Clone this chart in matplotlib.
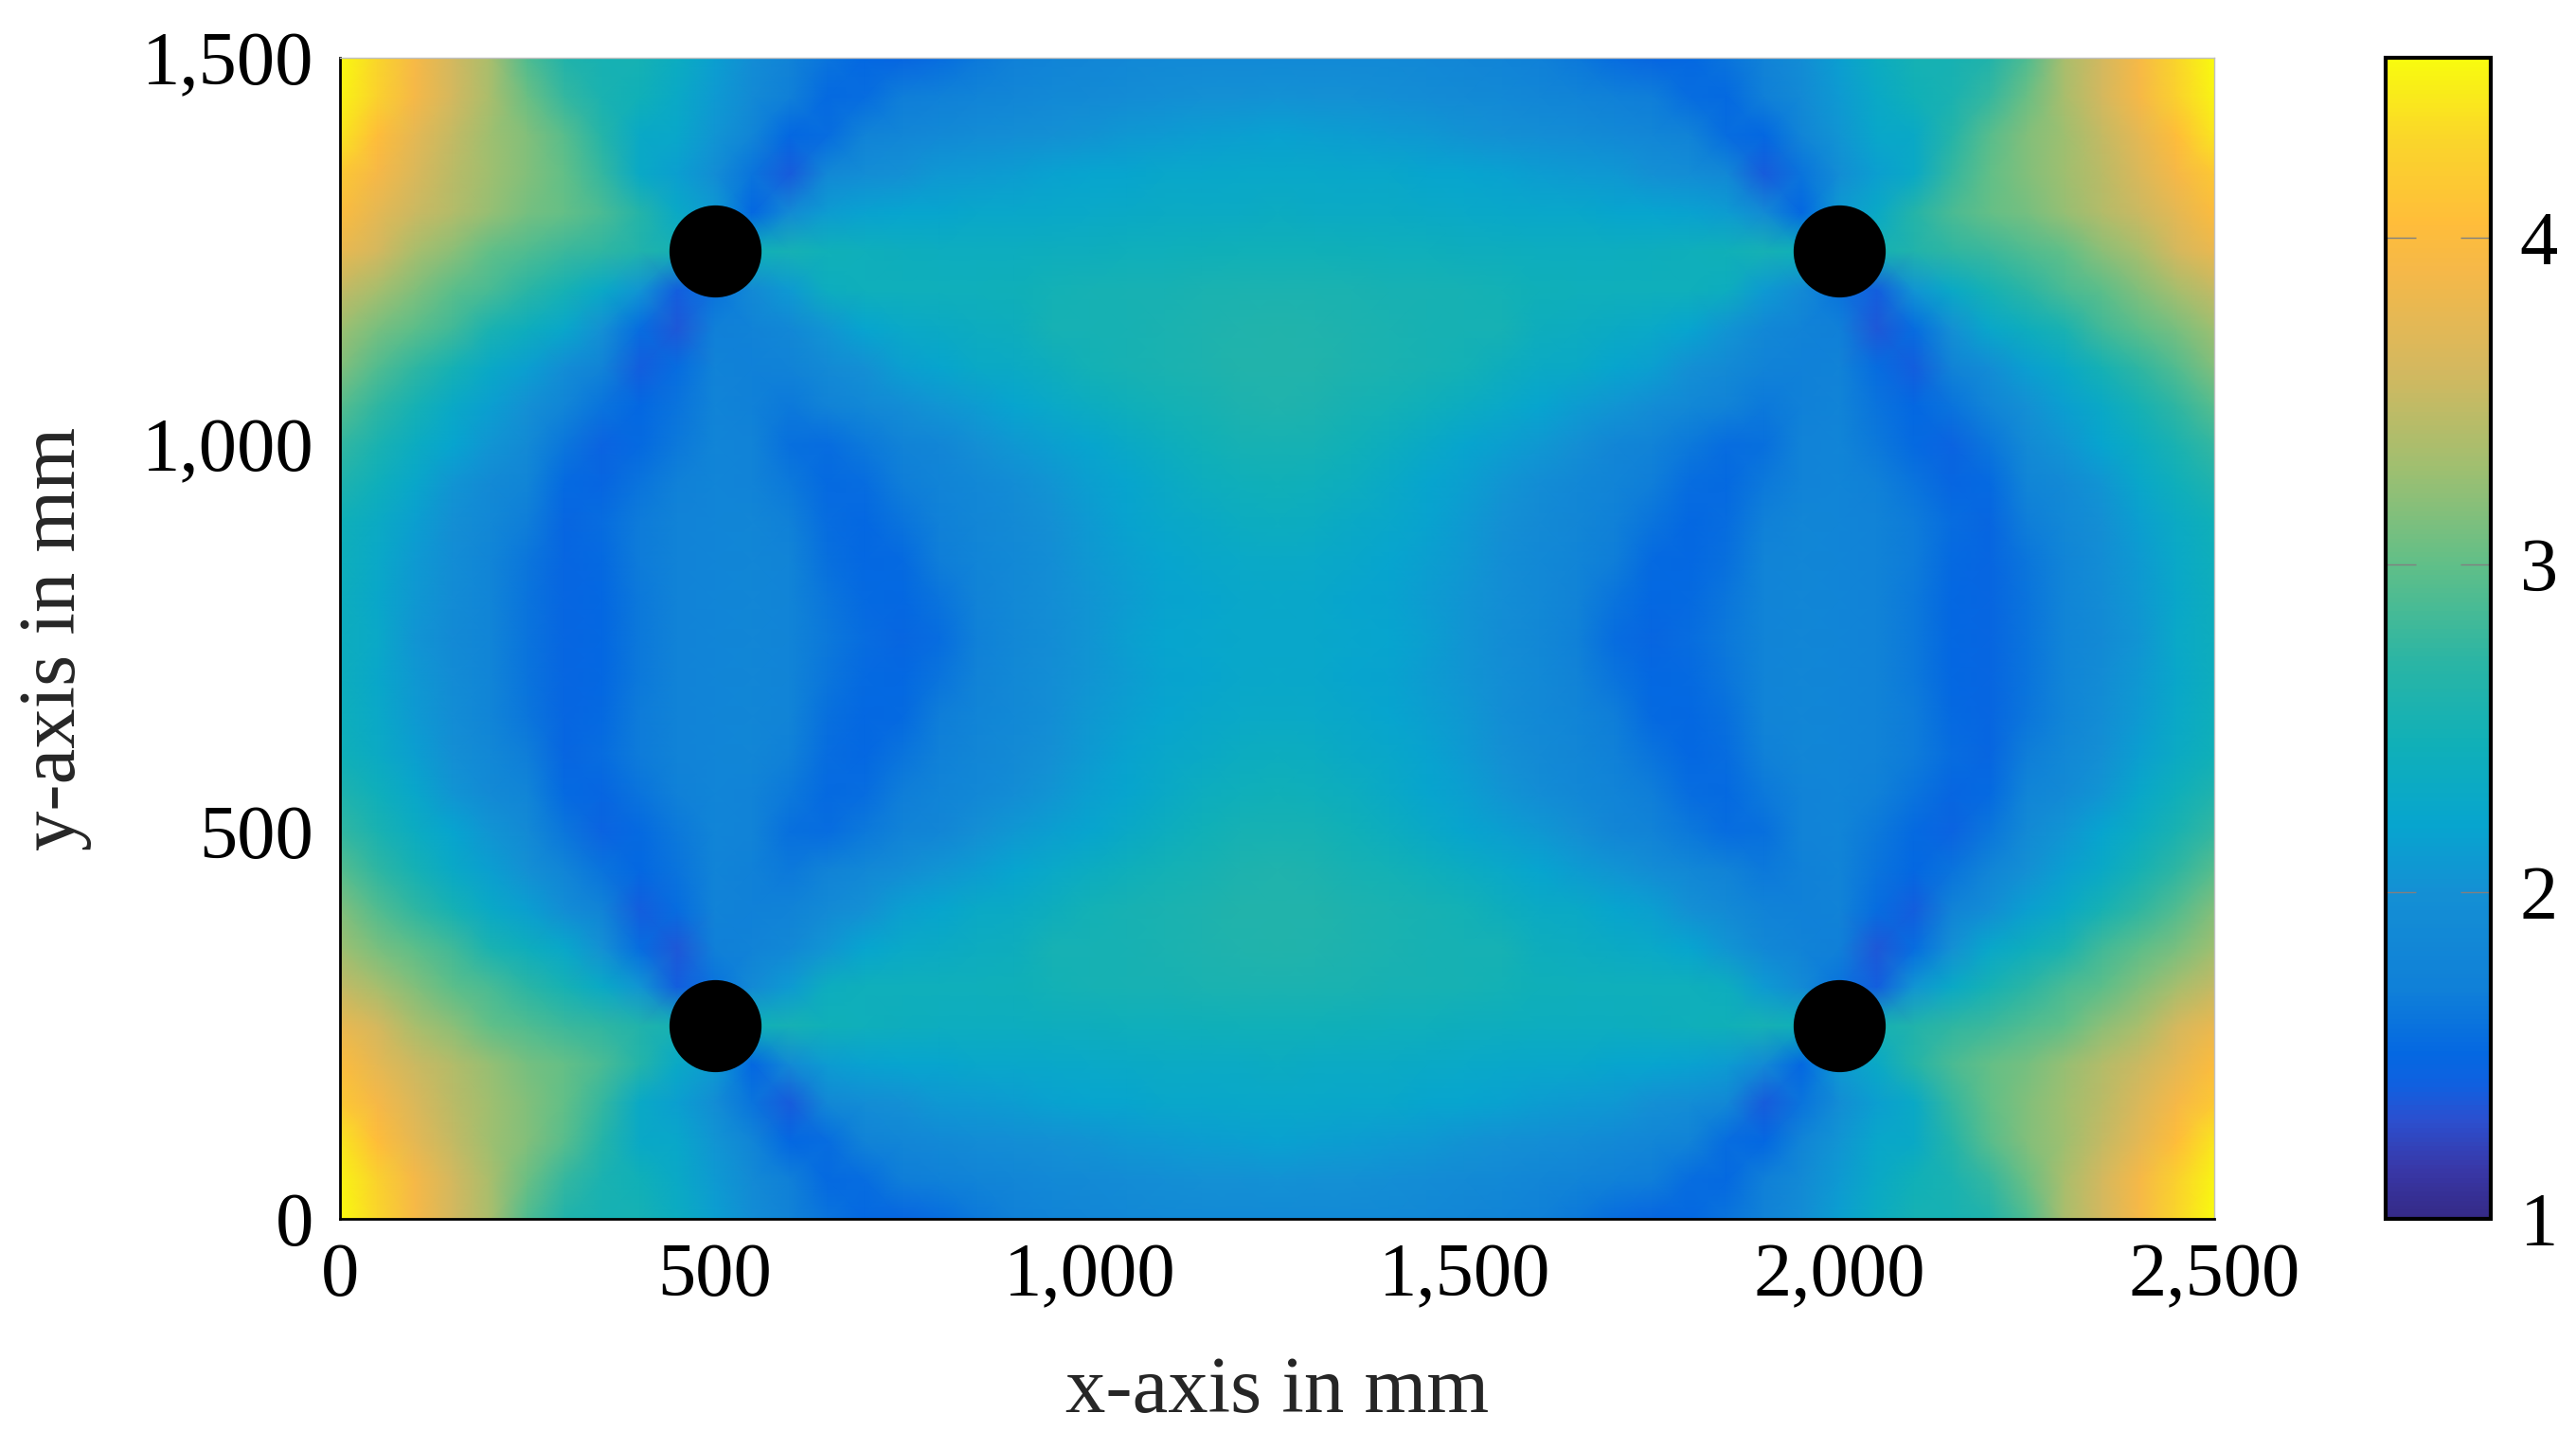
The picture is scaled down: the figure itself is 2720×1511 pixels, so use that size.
import numpy as np
import matplotlib
matplotlib.use("Agg")
import matplotlib.pyplot as plt
from matplotlib.colors import LinearSegmentedColormap, Normalize
from matplotlib.cm import ScalarMappable

x_quarter = list(range(0, 1300, 50))
y_quarter = list(range(1500, 700, -50))
z_1500 = [4.55, 4.3, 3.92, 3.6, 3.35, 2.9, 2.62, 2.52, 2.5, 2.35, 2.15, 1.95, 1.75, 1.6, 1.5, 1.48, 1.55, 1.65, 1.72, 1.78, 1.82, 1.85, 1.87, 1.88, 1.88, 1.88]
z_1450 = [4.5, 4.25, 3.9, 3.6, 3.35, 3.05, 2.75, 2.55, 2.45, 2.3, 2.1, 1.9, 1.7, 1.52, 1.55, 1.68, 1.72, 1.78, 1.83, 1.87, 1.9, 1.93, 1.97, 2.0, 2.0, 2.02]
z_1400 = [4.4, 4.05, 3.75, 3.5, 3.3, 3.15, 2.95, 2.65, 2.3, 2.25, 2.05, 1.8, 1.5, 1.55, 1.75, 1.82, 1.87, 1.92, 1.97, 2.0, 2.03, 2.07, 2.1, 2.13, 2.15, 2.17]
z_1350 = [4.15, 3.9, 3.65, 3.45, 3.3, 3.15, 3.0, 2.75, 2.3, 2.15, 1.95, 1.6, 1.38, 1.85, 1.95, 2.0, 2.07, 2.1, 2.13, 2.17, 2.2, 2.22, 2.25, 2.26, 2.27, 2.27]
z_1300 = [4.0, 3.75, 3.55, 3.4, 3.25, 3.1, 3.02, 2.88, 2.65, 2.3, 2.1, 1.5, 1.9, 2.12, 2.17, 2.2, 2.22, 2.25, 2.25, 2.27, 2.28, 2.3, 2.32, 2.33, 2.33, 2.35]
z_1250 = [3.8, 3.6, 3.35, 3.2, 3.0, 2.9, 2.8, 2.72, 2.62, 2.5, 2.4, 2.45, 2.5, 2.45, 2.42, 2.4, 2.38, 2.38, 2.38, 2.4, 2.4, 2.42, 2.42, 2.44, 2.45, 2.45]
z_1200 = [3.5, 3.33, 3.15, 2.97, 2.87, 2.7, 2.5, 2.3, 2.05, 1.4, 1.6, 1.9, 2.1, 2.38, 2.42, 2.42, 2.42, 2.42, 2.44, 2.48, 2.5, 2.52, 2.52, 2.54, 2.56, 2.56]
z_1150 = [3.3, 3.12, 2.97, 2.82, 2.55, 2.4, 2.25, 2.0, 1.55, 1.35, 1.7, 1.75, 1.85, 2.05, 2.2, 2.28, 2.33, 2.36, 2.4, 2.5, 2.5, 2.52, 2.55, 2.58, 2.6, 2.62]
z_1100 = [3.15, 2.92, 2.72, 2.5, 2.3, 2.15, 1.95, 1.75, 1.4, 1.55, 1.75, 1.72, 1.75, 1.9, 2.0, 2.15, 2.22, 2.3, 2.32, 2.4, 2.48, 2.52, 2.55, 2.58, 2.62, 2.62]
z_1050 = [2.95, 2.72, 2.5, 2.3, 2.15, 2.0, 1.8, 1.6, 1.5, 1.6, 1.78, 1.72, 1.65, 1.75, 1.85, 1.95, 2.05, 2.12, 2.2, 2.28, 2.35, 2.42, 2.48, 2.52, 2.58, 2.6]
z_1000 = [2.75, 2.55, 2.35, 2.2, 2.05, 1.9, 1.62, 1.45, 1.52, 1.65, 1.8, 1.75, 1.58, 1.55, 1.65, 1.75, 1.82, 1.98, 2.07, 2.15, 2.22, 2.3, 2.38, 2.45, 2.5, 2.52]
z_0950 = [2.6, 2.42, 2.25, 2.05, 1.9, 1.8, 1.52, 1.48, 1.6, 1.72, 1.8, 1.75, 1.65, 1.52, 1.55, 1.68, 1.78, 1.85, 1.95, 2.05, 2.15, 2.22, 2.3, 2.38, 2.42, 2.45]
z_0900 = [2.45, 2.32, 2.15, 1.98, 1.85, 1.68, 1.48, 1.55, 1.67, 1.76, 1.8, 1.82, 1.72, 1.55, 1.5, 1.6, 1.72, 1.82, 1.9, 2.0, 2.1, 2.18, 2.25, 2.3, 2.35, 2.38]
z_0850 = [2.42, 2.28, 2.1, 1.95, 1.8, 1.62, 1.48, 1.52, 1.67, 1.76, 1.8, 1.82, 1.78, 1.58, 1.5, 1.52, 1.68, 1.8, 1.88, 1.97, 2.08, 2.15, 2.2, 2.25, 2.28, 2.3]
z_0800 = [2.4, 2.25, 2.08, 1.93, 1.8, 1.6, 1.48, 1.5, 1.65, 1.75, 1.8, 1.82, 1.78, 1.62, 1.52, 1.5, 1.6, 1.75, 1.87, 1.97, 2.05, 2.12, 2.18, 2.22, 2.25, 2.27]
z_0750 = [2.4, 2.28, 2.05, 1.9, 1.8, 1.6, 1.48, 1.5, 1.65, 1.75, 1.8, 1.82, 1.78, 1.65, 1.55, 1.48, 1.55, 1.72, 1.85, 1.95, 2.05, 2.15, 2.2, 2.23, 2.25, 2.25]

hole_x = [500, 2000, 500, 2000]
hole_y = [1250, 1250, 250, 250]

x_ticks = [0, 500, 1000, 1500, 2000, 2500]
x_labels = ["0", "500", "1,000", "1,500", "2,000", "2,500"]
y_ticks = [0, 500, 1000, 1500]
y_labels = ["0", "500", "1,000", "1,500"]
bar_ticks = [1, 2, 3, 4]

# colour bar of the picture, value and colour
bar_values = [1.0, 1.15, 1.3, 1.4, 1.5, 1.7, 2.0, 2.2, 2.45, 2.7, 3.0, 3.3, 3.6, 3.9, 4.05, 4.3, 4.55]
bar_colors = ["#352a87", "#3838a8", "#2b50d0", "#1060e0", "#0468e2", "#1080d8", "#1490d4", "#07a5cf",
              "#10b0b8", "#2ab5a5", "#60bf88", "#a0bf70", "#d4b85f", "#f5b849", "#ffbd3a", "#fad52b", "#f9fb0e"]

plt.rcParams["font.family"] = ["Liberation Serif", "DejaVu Serif"]
W, H = 2720, 1511

vmin, vmax = bar_values[0], bar_values[-1]
nodes = [(v - vmin) / (vmax - vmin) for v in bar_values]
cmap = LinearSegmentedColormap.from_list("bar", list(zip(nodes, bar_colors)), N=256)
norm = Normalize(vmin, vmax)

quarter = np.array([z_0750, z_0800, z_0850, z_0900, z_0950, z_1000, z_1050, z_1100, z_1150,
                    z_1200, z_1250, z_1300, z_1350, z_1400, z_1450, z_1500])
y_up = np.array(y_quarter[::-1])
left = np.vstack([quarter[:0:-1], quarter])
full = np.hstack([left, left[:, -2::-1]])
x_full = np.concatenate([x_quarter, 2500 - np.array(x_quarter[-2::-1])])
y_full = np.concatenate([1500 - y_up[:0:-1], y_up])

fig = plt.figure(figsize=(W / 200, H / 200), dpi=200)
ax = fig.add_axes([359 / W, 1 - 1287 / H, (2338 - 359) / W, (1287 - 61) / H])
ax.pcolormesh(x_full, y_full, full, cmap=cmap, norm=norm, shading="gouraud")
ax.plot(hole_x, hole_y, "o", color="black", markersize=35, markeredgewidth=0)
ax.set_xlim(0, 2500)
ax.set_ylim(0, 1500)
ax.set_xticks(x_ticks, x_labels)
ax.set_yticks(y_ticks, y_labels)
ax.tick_params(length=0, labelsize=29)
ax.tick_params(axis="x", pad=9)
ax.tick_params(axis="y", pad=10)
ax.set_xlabel("x-axis in mm", fontsize=30.5, color="#262626", labelpad=17)
ax.set_ylabel("y-axis in mm", fontsize=30.5, color="#262626", labelpad=19)
ax.spines["left"].set_linewidth(1.0)
ax.spines["bottom"].set_linewidth(1.0)
ax.spines["top"].set_color("#c0c0c0")
ax.spines["right"].set_color("#c0c0c0")
ax.spines["top"].set_linewidth(0.5)
ax.spines["right"].set_linewidth(0.5)

cax = fig.add_axes([2519 / W, 1 - 1287 / H, (2630 - 2519) / W, (1287 - 61) / H])
cbar = fig.colorbar(ScalarMappable(norm=norm, cmap=cmap), cax=cax, ticks=bar_ticks)
cbar.outline.set_linewidth(1.5)
cax.yaxis.set_ticks_position("both")
cax.tick_params(direction="in", length=11.5, width=0.5, color="#808080", labelsize=29, pad=11,
                labelleft=False, labelright=True)

fig.savefig("out.png", dpi=200)
